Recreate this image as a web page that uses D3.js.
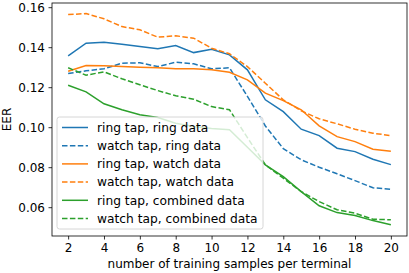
<!DOCTYPE html>
<html lang="en">
<head>
    <meta charset="UTF-8">
    <script src="https://d3js.org/d3.v7.min.js"></script>
    <title>EER vs training samples</title>
</head>
<body style="margin:0;">
<script>
    const samples = [2, 3, 4, 5, 6, 7, 8, 9, 10, 11, 12, 13, 14, 15, 16, 17, 18, 19, 20];
    const ringTapRing = [0.1357, 0.1420, 0.1425, 0.1415, 0.1403, 0.1392, 0.1408, 0.1373, 0.1390, 0.1362, 0.1287, 0.1137, 0.1078, 0.0990, 0.0958, 0.0895, 0.0878, 0.0840, 0.0813];
    const watchTapRing = [0.1268, 0.1282, 0.1292, 0.1320, 0.1322, 0.1303, 0.1325, 0.1317, 0.1292, 0.1297, 0.1154, 0.1006, 0.0893, 0.0837, 0.0800, 0.0767, 0.0733, 0.0697, 0.0690];
    const ringTapWatch = [0.1280, 0.1308, 0.1307, 0.1303, 0.1300, 0.1297, 0.1292, 0.1292, 0.1287, 0.1275, 0.1237, 0.1170, 0.1133, 0.1087, 0.1007, 0.0953, 0.0928, 0.0890, 0.0880];
    const watchTapWatch = [0.1563, 0.1568, 0.1542, 0.1503, 0.1487, 0.1450, 0.1457, 0.1445, 0.1395, 0.1367, 0.1303, 0.1220, 0.1137, 0.1082, 0.1042, 0.1017, 0.0990, 0.0970, 0.0958];
    const ringTapCombined = [0.1210, 0.1177, 0.1117, 0.1087, 0.1062, 0.1048, 0.1020, 0.1003, 0.0993, 0.0987, 0.0900, 0.0812, 0.0753, 0.0678, 0.0607, 0.0573, 0.0558, 0.0533, 0.0512];
    const watchTapCombined = [0.1297, 0.1260, 0.1277, 0.1242, 0.1212, 0.1183, 0.1157, 0.1140, 0.1103, 0.1087, 0.0948, 0.0812, 0.0745, 0.0678, 0.0628, 0.0587, 0.0570, 0.0540, 0.0537];
    const xTicks = [2, 4, 6, 8, 10, 12, 14, 16, 18, 20];
    const yTicks = [0.06, 0.08, 0.10, 0.12, 0.14, 0.16];

    const series = [
        { name: "ring tap, ring data", values: ringTapRing, color: "#1f77b4", dash: null },
        { name: "watch tap, ring data", values: watchTapRing, color: "#1f77b4", dash: "5.5,2.4" },
        { name: "ring tap, watch data", values: ringTapWatch, color: "#ff7f0e", dash: null },
        { name: "watch tap, watch data", values: watchTapWatch, color: "#ff7f0e", dash: "5.5,2.4" },
        { name: "ring tap, combined data", values: ringTapCombined, color: "#2ca02c", dash: null },
        { name: "watch tap, combined data", values: watchTapCombined, color: "#2ca02c", dash: "5.5,2.4" }
    ];

    const width = 409;
    const height = 273;
    const margin = { top: 3, right: 2, bottom: 37, left: 52 };
    const font = "DejaVu Sans, sans-serif";

    const x = d3.scaleLinear()
        .domain([1.1, 20.9])
        .range([margin.left, width - margin.right]);
    const y = d3.scaleLinear()
        .domain([0.0456, 0.1621])
        .range([height - margin.bottom, margin.top]);

    const svg = d3.select("body").append("svg")
        .attr("width", width)
        .attr("height", height)
        .attr("viewBox", [0, 0, width, height])
        .style("font-family", font);

    svg.append("rect").attr("width", width).attr("height", height).attr("fill", "white");

    const line = d3.line()
        .x((d, i) => x(samples[i]))
        .y(d => y(d));

    svg.append("g")
        .selectAll("path")
        .data(series)
        .join("path")
        .attr("fill", "none")
        .attr("stroke", d => d.color)
        .attr("stroke-width", 1.5)
        .attr("stroke-dasharray", d => d.dash)
        .attr("d", d => line(d.values));

    // axes
    const xAxis = g => g
        .attr("transform", `translate(0,${height - margin.bottom})`)
        .call(d3.axisBottom(x).tickValues(xTicks).tickSize(3.5).tickPadding(3.5).tickSizeOuter(0))
        .call(g => g.select(".domain").remove())
        .call(g => g.selectAll("text").attr("font-size", 12).attr("fill", "#000").attr("font-family", font));
    const yAxis = g => g
        .attr("transform", `translate(${margin.left},0)`)
        .call(d3.axisLeft(y).tickValues(yTicks).tickFormat(d3.format(".2f")).tickSize(3.5).tickPadding(3.5))
        .call(g => g.select(".domain").remove())
        .call(g => g.selectAll("text").attr("font-size", 12).attr("fill", "#000").attr("font-family", font));

    svg.append("g").call(xAxis);
    svg.append("g").call(yAxis);
    svg.selectAll(".tick line").attr("stroke", "#000").attr("stroke-width", 0.8);

    // frame
    svg.append("rect")
        .attr("x", margin.left)
        .attr("y", margin.top)
        .attr("width", width - margin.left - margin.right)
        .attr("height", height - margin.top - margin.bottom)
        .attr("fill", "none")
        .attr("stroke", "#000")
        .attr("stroke-width", 0.8);

    // legend
    const legend = svg.append("g").attr("transform", "translate(57,117)");
    legend.append("rect")
        .attr("width", 206)
        .attr("height", 112)
        .attr("rx", 2.5)
        .attr("fill", "white")
        .attr("fill-opacity", 0.8)
        .attr("stroke", "#cccccc")
        .attr("stroke-width", 0.8);
    const item = legend.selectAll("g.item")
        .data(series)
        .join("g")
        .attr("class", "item")
        .attr("transform", (d, i) => `translate(0,${10.5 + i * 18.2})`);
    item.append("line")
        .attr("x1", 5).attr("x2", 31)
        .attr("stroke", d => d.color)
        .attr("stroke-width", 1.5)
        .attr("stroke-dasharray", d => d.dash);
    item.append("text")
        .attr("x", 40)
        .attr("dy", "0.35em")
        .attr("font-size", 12.25)
        .text(d => d.name);

    // labels
    svg.append("text")
        .attr("x", (margin.left + width - margin.right) / 2)
        .attr("y", 268)
        .attr("text-anchor", "middle")
        .attr("font-size", 12)
        .text("number of training samples per terminal");
    svg.append("text")
        .attr("transform", `translate(11,${(margin.top + height - margin.bottom) / 2}) rotate(-90)`)
        .attr("text-anchor", "middle")
        .attr("font-size", 12)
        .text("EER");
</script>
</body>
</html>
